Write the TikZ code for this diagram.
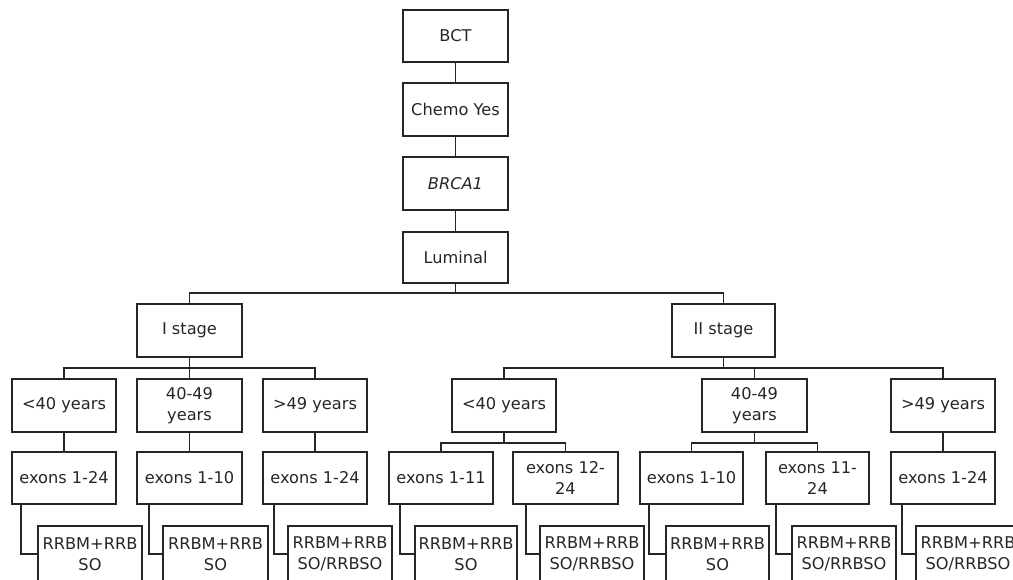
\documentclass[tikz,border=0pt]{standalone}
\usepackage{fontspec}
\setmainfont{DejaVu Sans}
\begin{document}
\begin{tikzpicture}[x=1pt,y=-1pt,
  box/.style={draw=black!85, line width=1.4pt, rectangle, inner sep=0pt, outer sep=0pt,
    minimum width=104pt, minimum height=53pt, align=center,
    font=\fontsize{16.2}{21}\selectfont, text=black!85},
  leaf/.style={box, minimum height=56pt},
  link/.style={draw=black!85, line width=1.4pt}]
\useasboundingbox (0,0) rectangle (1013,579);
\clip (0,0) rectangle (1013,579);
% top chain
\node[box, minimum width=105pt, minimum height=52pt] (bct) at (455.5,36) {BCT};
\node[box, minimum width=105pt] (chemo) at (455.5,109.5) {Chemo Yes};
\node[box, minimum width=105pt] (brca) at (455.5,183.5) {\itshape BRCA1};
\node[box, minimum width=105pt, minimum height=51pt] (lum) at (455.5,257.5) {Luminal};
% stages
\node[box, minimum width=105pt] (s1) at (189.5,330.5) {I stage};
\node[box, minimum width=103pt] (s2) at (723.5,330.5) {II stage};
% ages
\node[box] (a1) at (64,405.5) {<40 years};
\node[box, minimum width=105pt] (a2) at (189.5,405.5) {40-49\\years};
\node[box] (a3) at (315,405.5) {>49 years};
\node[box] (a4) at (504,405.5) {<40 years};
\node[box, minimum width=105pt] (a5) at (754.5,405.5) {40-49\\years};
\node[box] (a6) at (943,405.5) {>49 years};
% exons
\node[box, minimum height=52pt] (e1) at (64,478) {exons 1-24};
\node[box, minimum width=105pt, minimum height=52pt] (e2) at (189.5,478) {exons 1-10};
\node[box, minimum height=52pt] (e3) at (315,478) {exons 1-24};
\node[box, minimum height=52pt] (e4) at (441,478) {exons 1-11};
\node[box, minimum width=105pt, minimum height=52pt] (e5) at (565.5,478) {exons 12-\\24};
\node[box, minimum width=103pt, minimum height=52pt] (e6) at (691.5,478) {exons 1-10};
\node[box, minimum width=103pt, minimum height=52pt] (e7) at (817.5,478) {exons 11-\\24};
\node[box, minimum height=52pt] (e8) at (943,478) {exons 1-24};
% recommendations
\node[leaf] (r1) at (90,554) {RRBM+RRB\\SO};
\node[leaf, minimum width=105pt] (r2) at (215.5,554) {RRBM+RRB\\SO};
\node[leaf] (r3) at (340,554) {RRBM+RRB\\SO/RRBSO};
\node[leaf, minimum width=102pt] (r4) at (466,554) {RRBM+RRB\\SO};
\node[leaf] (r5) at (592,554) {RRBM+RRB\\SO/RRBSO};
\node[leaf, minimum width=103pt] (r6) at (717.5,554) {RRBM+RRB\\SO};
\node[leaf] (r7) at (844,554) {RRBM+RRB\\SO/RRBSO};
\node[leaf] (r8) at (968,554) {RRBM+RRB\\SO/RRBSO};
% chain connectors
\draw[link] (bct.south) -- (chemo.north);
\draw[link] (chemo.south) -- (brca.north);
\draw[link] (brca.south) -- (lum.north);
% luminal to stages
\draw[link] (lum.south) -- ++(0,10) -| (s1.north);
\draw[link] (lum.south) -- ++(0,10) -| (s2.north);
% stage I to ages
\draw[link] (s1.south) -- ++(0,11) -| (a1.north);
\draw[link] (s1.south) -- (a2.north);
\draw[link] (s1.south) -- ++(0,11) -| (a3.north);
% stage II to ages
\draw[link] (s2.south) -- ++(0,11) -| (a4.north);
\draw[link] (s2.south) -- ++(0,11) -| (a5.north);
\draw[link] (s2.south) -- ++(0,11) -| (a6.north);
% ages to exons
\draw[link] (a1.south) -- (e1.north);
\draw[link] (a2.south) -- (e2.north);
\draw[link] (a3.south) -- (e3.north);
\draw[link] (a4.south) -- ++(0,11) -| (e4.north);
\draw[link] (a4.south) -- ++(0,11) -| (e5.north);
\draw[link] (a5.south) -- ++(0,11) -| (e6.north);
\draw[link] (a5.south) -- ++(0,11) -| (e7.north);
\draw[link] (a6.south) -- (e8.north);
% exons to recommendations
\draw[link] ([xshift=9pt]e1.south west) |- (r1.west);
\draw[link] ([xshift=12pt]e2.south west) |- (r2.west);
\draw[link] ([xshift=11pt]e3.south west) |- (r3.west);
\draw[link] ([xshift=11pt]e4.south west) |- (r4.west);
\draw[link] ([xshift=13pt]e5.south west) |- (r5.west);
\draw[link] ([xshift=9pt]e6.south west) |- (r6.west);
\draw[link] ([xshift=10pt]e7.south west) |- (r7.west);
\draw[link] ([xshift=11pt]e8.south west) |- (r8.west);
\end{tikzpicture}
\end{document}
